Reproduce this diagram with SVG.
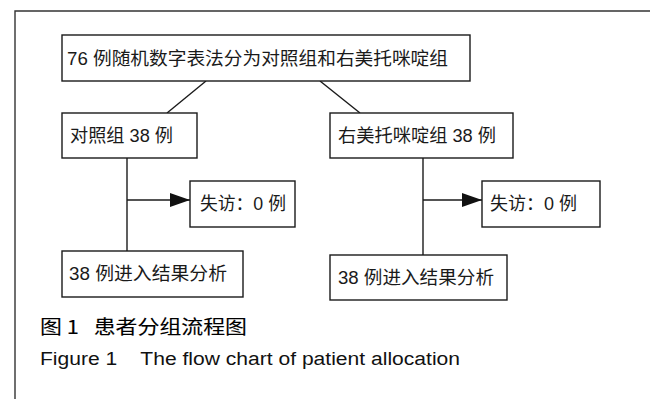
<svg xmlns="http://www.w3.org/2000/svg" width="650" height="399" viewBox="0 0 650 399">
  <style>
    .box { fill: #ffffff; stroke: #1a1a1a; stroke-width: 1.4; }
    .lbl { font-family: "Liberation Sans", "Noto Sans CJK SC", sans-serif; font-size: 18px; fill: #1a1a1a; }
    .link { fill: none; stroke: #1a1a1a; stroke-width: 1.4; }
    .cap-zh { font-family: "Noto Sans CJK SC", sans-serif; font-size: 19px; font-weight: normal; fill: #000; stroke: #000; stroke-width: 0.1; }
    .cap-en { font-family: "Liberation Sans", sans-serif; font-size: 18px; fill: #111; }
  </style>
  <defs>
    <marker id="arrow" markerUnits="userSpaceOnUse" markerWidth="20" markerHeight="14" refX="20" refY="7" orient="auto">
      <path d="M0,0 L20,7 L0,14 Z" fill="#111"/>
    </marker>
  </defs>

  <rect width="650" height="399" fill="#ffffff"/>
  <!-- outer frame -->
  <path d="M15,399 L15,11 L650,11" fill="none" stroke="#333" stroke-width="1.4"/>

  <g id="connectors">
    <line class="link" x1="206" y1="81" x2="167" y2="113"/>
    <line class="link" x1="320" y1="81" x2="360" y2="113"/>
    <line class="link" x1="127" y1="158" x2="127" y2="251"/>
    <line class="link" x1="127" y1="200" x2="190" y2="200" marker-end="url(#arrow)"/>
    <line class="link" x1="423" y1="158" x2="423" y2="255"/>
    <line class="link" x1="423" y1="200" x2="482" y2="200" marker-end="url(#arrow)"/>
  </g>

  <g id="n-randomize">
    <rect class="box" x="62" y="35" width="408" height="46"/>
    <text class="lbl" x="67" y="65" textLength="381" lengthAdjust="spacingAndGlyphs">76 例随机数字表法分为对照组和右美托咪啶组</text>
  </g>

  <g id="n-control">
    <rect class="box" x="62" y="113" width="135" height="45"/>
    <text class="lbl" x="70" y="142" textLength="103" lengthAdjust="spacingAndGlyphs">对照组 38 例</text>
  </g>

  <g id="n-dex">
    <rect class="box" x="330" y="113" width="183" height="45"/>
    <text class="lbl" x="338" y="142" textLength="158" lengthAdjust="spacingAndGlyphs">右美托咪啶组 38 例</text>
  </g>

  <g id="n-lost-control">
    <rect class="box" x="190" y="181" width="105" height="46"/>
    <text class="lbl" x="200" y="210" textLength="86" lengthAdjust="spacingAndGlyphs">失访：0 例</text>
  </g>

  <g id="n-lost-dex">
    <rect class="box" x="482" y="181" width="118" height="46"/>
    <text class="lbl" x="490" y="210" textLength="87" lengthAdjust="spacingAndGlyphs">失访：0 例</text>
  </g>

  <g id="n-result-control">
    <rect class="box" x="62" y="251" width="181" height="46"/>
    <text class="lbl" x="69" y="280" textLength="158" lengthAdjust="spacingAndGlyphs">38 例进入结果分析</text>
  </g>

  <g id="n-result-dex">
    <rect class="box" x="330" y="255" width="177" height="45"/>
    <text class="lbl" x="338" y="284" textLength="156" lengthAdjust="spacingAndGlyphs">38 例进入结果分析</text>
  </g>

  <text class="cap-zh" x="40" y="334" textLength="207" lengthAdjust="spacingAndGlyphs" xml:space="preserve">图 1   患者分组流程图</text>
  <text class="cap-en" x="40" y="365" textLength="420" lengthAdjust="spacingAndGlyphs" xml:space="preserve">Figure 1    The flow chart of patient allocation</text>
</svg>
